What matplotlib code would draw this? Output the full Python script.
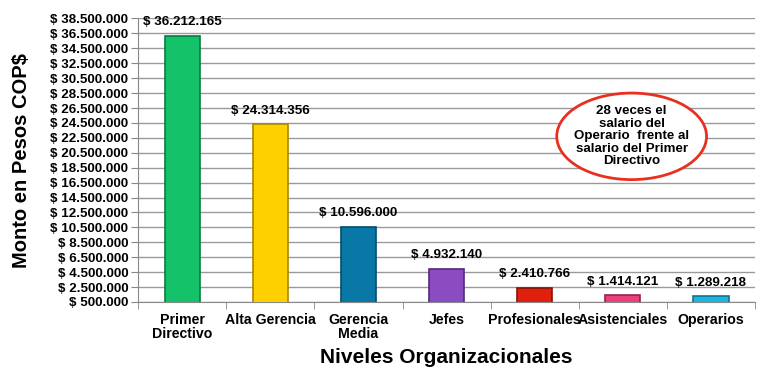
import matplotlib.pyplot as plt
from matplotlib.patches import Ellipse

plt.rcParams['font.family'] = ['Liberation Sans', 'DejaVu Sans']
plt.rcParams['font.weight'] = 'bold'

niveles = ['Primer\nDirectivo', 'Alta Gerencia', 'Gerencia\nMedia', 'Jefes',
           'Profesionales', 'Asistenciales', 'Operarios']
montos = [36212165, 24314356, 10596000, 4932140, 2410766, 1414121, 1289218]
colores = ['#14C26A', '#FFD000', '#0A78A6', '#8A4CC0', '#E0200E', '#E8407A', '#1EB6E0']
bordes = ['#0B7A40', '#A88800', '#064D6C', '#55287E', '#8A1206', '#982050', '#0E7494']

def fmt(v):
    return '$ ' + f'{v:,}'.replace(',', '.')

fig = plt.figure(figsize=(7.72, 3.77), dpi=100)
ax = fig.add_axes([0.179, 0.199, 0.799, 0.752])

x = range(len(niveles))
ax.bar(x, montos, width=0.4, color=colores, edgecolor=bordes, linewidth=1.2, zorder=3)
for i, v in enumerate(montos):
    ax.text(i, v + 1000000, fmt(v), ha='center', va='bottom', fontsize=9.6,
            fontweight='bold', zorder=4)

ticks = list(range(500000, 38500001, 2000000))
ax.set_ylim(500000, 38500000)
ax.set_yticks(ticks)
ax.set_yticklabels([fmt(t) for t in ticks], fontsize=9.6, fontweight='bold')
ax.set_xlim(-0.5, len(niveles) - 0.5)
ax.set_xticks(list(x))
ax.set_xticklabels(niveles, fontsize=10.2, fontweight='bold', linespacing=1.0)
ax.set_xticks([i - 0.5 for i in range(len(niveles) + 1)], minor=True)
ax.tick_params(axis='x', which='major', length=0, pad=8)
ax.tick_params(axis='x', which='minor', length=5, color='#888888')
ax.tick_params(axis='y', length=5, color='#888888', pad=2)

ax.grid(axis='y', color='#9A9A9A', linewidth=1, zorder=0)
for s in ['top', 'right']:
    ax.spines[s].set_visible(False)
ax.spines['left'].set_color('#888888')
ax.spines['bottom'].set_color('#888888')

ax.set_ylabel('Monto en Pesos COP$', fontsize=14.5, fontweight='bold', labelpad=14)
ax.set_xlabel('Niveles Organizacionales', fontsize=15, fontweight='bold', labelpad=5)

el = Ellipse((5.1, 22700000), 1.7, 11600000, facecolor='white', edgecolor='#E83020',
             linewidth=2, zorder=5)
ax.add_patch(el)
ax.text(5.1, 22700000, '28 veces el\nsalario del\nOperario  frente al\nsalario del Primer\nDirectivo',
        ha='center', va='center', fontsize=9.6, fontweight='bold', zorder=6, linespacing=1.05)

fig.savefig('out.png', dpi=100)
